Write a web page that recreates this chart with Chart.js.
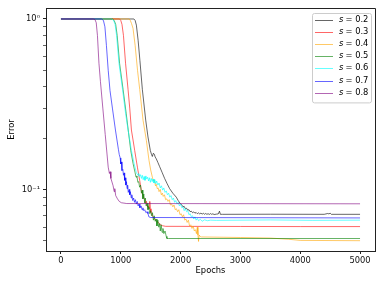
<!DOCTYPE html>
<html>
<head>
<meta charset="utf-8">
<script src="https://cdn.jsdelivr.net/npm/chart.js@4/dist/chart.umd.min.js"></script>
<style>
html,body{margin:0;padding:0;background:#fff;}
canvas{display:block;}
</style>
</head>
<body>
<canvas id="c" width="384" height="286"></canvas>
<script>
// ---- data (epoch, error) ----
const seriesLabels = ['0.2','0.3','0.4','0.5','0.6','0.7','0.8'];
const seriesColors = ['0,0,0','255,0,0','255,165,0','0,128,0','0,255,255','0,0,255','128,0,128'];

const errS02 = [[0,1],[1220,1],[1240,0.98],[1261,0.92],[1290,0.75],[1320,0.57],[1361,0.385],[1417,0.255],[1455,0.203],[1494,0.169],[1515,0.160],[1528,0.156],[1545,0.163],[1560,0.161],[1575,0.155],[1594,0.151],[1620,0.144],[1650,0.136],[1690,0.126],[1733,0.116],[1775,0.108],[1817,0.101],[1870,0.095],[1928,0.090],[1960,0.086],[1990,0.083],[2020,0.081],[2040,0.079],[2060,0.0795],[2080,0.077],[2100,0.0775],[2120,0.0755],[2140,0.076],[2160,0.074],[2180,0.0745],[2200,0.073],[2220,0.0738],[2240,0.0725],[2260,0.0732],[2280,0.072],[2300,0.0728],[2320,0.0718],[2340,0.0726],[2360,0.0716],[2380,0.0724],[2400,0.0715],[2420,0.0722],[2440,0.0714],[2460,0.072],[2480,0.0713],[2500,0.0721],[2520,0.0714],[2540,0.0719],[2560,0.0712],[2600,0.0716],[2630,0.0718],[2650,0.0745],[2665,0.0714],[2700,0.0714],[3500,0.0715],[4400,0.0714],[4460,0.0722],[4480,0.0718],[4500,0.0725],[4520,0.0714],[5000,0.0714]];

const errS03 = [[0,1],[980,1],[1000,0.98],[1020,0.93],[1045,0.8],[1080,0.55],[1122,0.385],[1150,0.3],[1178,0.223],[1205,0.195],[1233,0.169],[1278,0.135],[1317,0.1125],[1345,0.098],[1370,0.092],[1385,0.089],[1400,0.087],[1415,0.083],[1430,0.085],[1445,0.079],[1460,0.080],[1475,0.077],[1485,0.085],[1492,0.077],[1505,0.073],[1520,0.072],[1540,0.069],[1560,0.068],[1580,0.066],[1600,0.065],[1630,0.064],[1660,0.062],[1700,0.0612],[1750,0.0607],[3000,0.0606],[4000,0.0605],[5000,0.0605]];

const errS04 = [[0,1],[1140,1],[1160,0.98],[1180,0.94],[1205,0.88],[1240,0.7],[1280,0.5],[1317,0.385],[1372,0.255],[1428,0.194],[1472,0.148],[1500,0.13],[1528,0.118],[1545,0.112],[1560,0.114],[1580,0.105],[1594,0.107],[1610,0.101],[1625,0.102],[1640,0.097],[1660,0.1],[1678,0.093],[1695,0.095],[1710,0.091],[1730,0.093],[1750,0.087],[1770,0.088],[1790,0.085],[1810,0.087],[1830,0.081],[1850,0.082],[1870,0.079],[1890,0.081],[1910,0.076],[1930,0.077],[1950,0.074],[1970,0.076],[1990,0.071],[2010,0.072],[2030,0.069],[2050,0.071],[2070,0.066],[2090,0.067],[2110,0.064],[2130,0.066],[2150,0.061],[2170,0.062],[2190,0.059],[2210,0.061],[2230,0.057],[2250,0.058],[2265,0.055],[2280,0.060],[2290,0.054],[2300,0.0495],[2310,0.054],[2330,0.0528],[2350,0.0526],[3000,0.0522],[3500,0.0518],[3800,0.051],[4000,0.0502],[5000,0.0500]];

const errS05 = [[0,1],[860,1],[890,0.98],[915,0.93],[940,0.8],[980,0.55],[1039,0.385],[1090,0.28],[1130,0.215],[1167,0.169],[1205,0.142],[1240,0.125],[1255,0.118],[1270,0.120],[1285,0.110],[1300,0.111],[1315,0.103],[1330,0.106],[1345,0.095],[1360,0.099],[1370,0.088],[1385,0.094],[1400,0.083],[1410,0.089],[1425,0.080],[1440,0.083],[1455,0.076],[1470,0.079],[1485,0.072],[1500,0.075],[1515,0.070],[1530,0.073],[1545,0.066],[1560,0.070],[1575,0.065],[1590,0.067],[1605,0.061],[1620,0.066],[1635,0.060],[1650,0.063],[1660,0.057],[1675,0.062],[1690,0.056],[1705,0.059],[1720,0.055],[1740,0.057],[1760,0.053],[1772,0.0515],[1800,0.0515],[5000,0.0515]];

const errS06 = [[0,1],[850,1],[880,0.98],[905,0.93],[930,0.8],[970,0.55],[1030,0.385],[1080,0.28],[1122,0.223],[1178,0.169],[1222,0.142],[1261,0.125],[1289,0.121],[1300,0.124],[1315,0.119],[1330,0.122],[1345,0.116],[1360,0.121],[1375,0.114],[1390,0.119],[1405,0.113],[1420,0.120],[1435,0.115],[1450,0.118],[1465,0.112],[1480,0.117],[1495,0.110],[1510,0.116],[1525,0.111],[1540,0.115],[1555,0.109],[1570,0.114],[1585,0.108],[1600,0.112],[1620,0.106],[1640,0.109],[1660,0.102],[1680,0.105],[1700,0.099],[1720,0.102],[1740,0.096],[1760,0.098],[1780,0.093],[1800,0.095],[1820,0.090],[1840,0.092],[1860,0.087],[1880,0.089],[1900,0.084],[1920,0.086],[1940,0.082],[1960,0.084],[1980,0.080],[2000,0.082],[2020,0.078],[2040,0.079],[2060,0.075],[2080,0.077],[2100,0.074],[2120,0.075],[2140,0.071],[2160,0.072],[2180,0.069],[2200,0.070],[2220,0.067],[2240,0.069],[2260,0.066],[2280,0.0675],[2300,0.0655],[2330,0.0668],[2360,0.065],[2400,0.0663],[2450,0.0655],[2500,0.066],[2600,0.0658],[3500,0.0662],[4200,0.0658],[5000,0.066]];

const errS07 = [[0,1],[680,1],[710,0.98],[735,0.9],[760,0.7],[790,0.5],[820,0.38],[860,0.3],[911,0.223],[960,0.172],[975,0.160],[990,0.153],[1000,0.141],[1010,0.145],[1020,0.129],[1035,0.131],[1045,0.121],[1055,0.125],[1065,0.113],[1075,0.117],[1085,0.106],[1095,0.111],[1105,0.101],[1115,0.106],[1125,0.096],[1140,0.100],[1150,0.093],[1160,0.097],[1175,0.089],[1185,0.093],[1200,0.086],[1215,0.089],[1230,0.084],[1245,0.087],[1260,0.082],[1275,0.085],[1290,0.080],[1305,0.082],[1320,0.078],[1340,0.080],[1355,0.076],[1370,0.078],[1385,0.075],[1400,0.076],[1420,0.073],[1440,0.074],[1455,0.072],[1470,0.069],[1500,0.0684],[5000,0.068]];

const errS08 = [[0,1],[540,1],[570,0.99],[590,0.95],[610,0.8],[635,0.55],[660,0.43],[700,0.3],[740,0.21],[790,0.135],[810,0.124],[822,0.127],[835,0.116],[872,0.105],[890,0.097],[900,0.101],[915,0.092],[945,0.088],[975,0.085],[1011,0.0835],[1100,0.0826],[5000,0.0823]];

const xTickValues = [0,1000,2000,3000,4000,5000];
const yMajorTicks = [0.1,1];
const yMinorTicks = [0.05,0.06,0.07,0.08,0.09,0.2,0.3,0.4,0.5,0.6,0.7,0.8,0.9];
const yTickLabels = {'0.1':'10\u207B\u00B9','1':'10\u2070'};

const allSeries = [errS02,errS03,errS04,errS05,errS06,errS07,errS08];

const FONT = 'DejaVu Sans';
const FS = 8.33;
const ALPHA = 0.6;
const lineColor = i => 'rgba(' + seriesColors[i] + ',' + ALPHA + ')';

const datasets = allSeries.map((s,i)=>({
  label: 's = ' + seriesLabels[i],
  data: s.map(([x,y])=>({x,y})),
  borderColor: lineColor(i),
  backgroundColor: lineColor(i),
  borderWidth: 1,
  pointRadius: 0,
  tension: 0,
  fill: false,
  order: allSeries.length - 1 - i
}));

const framePlugin = {
  id: 'frame',
  afterDatasetsDraw(chart){
    const {ctx, chartArea:a} = chart;
    ctx.save();
    ctx.strokeStyle = '#222';
    ctx.lineWidth = 1;
    ctx.beginPath();
    ctx.moveTo(a.left, a.top+0.5); ctx.lineTo(a.right+0.5, a.top+0.5);
    ctx.lineTo(a.right+0.5, a.bottom);
    ctx.stroke();
    ctx.restore();
  },
  afterDraw(chart){
    const {ctx, chartArea:a} = chart;
    const n = seriesLabels.length;
    const w = 59, rowH = 12.2;
    const h = rowH*n + 4;
    const x0 = a.right - 4 - w, y0 = a.top + 5;
    ctx.save();
    ctx.beginPath();
    ctx.roundRect(x0+0.5, y0+0.5, w, h, 2);
    ctx.fillStyle = 'rgba(255,255,255,0.8)';
    ctx.fill();
    ctx.strokeStyle = '#cccccc';
    ctx.lineWidth = 1;
    ctx.stroke();
    for (let i = 0; i < n; i++) {
      const cy = y0 + 6.5 + i*rowH;
      const ly = Math.round(cy) + 0.5;
      ctx.strokeStyle = lineColor(i);
      ctx.lineWidth = 1;
      ctx.beginPath();
      ctx.moveTo(x0+3, ly);
      ctx.lineTo(x0+21, ly);
      ctx.stroke();
      ctx.fillStyle = '#000';
      ctx.textBaseline = 'middle';
      ctx.textAlign = 'left';
      ctx.font = 'italic ' + FS + 'px "' + FONT + '"';
      const tx = x0 + 27;
      ctx.fillText('s', tx, cy);
      ctx.font = FS + 'px "' + FONT + '"';
      ctx.fillText('= ' + seriesLabels[i], tx + 6.5, cy);
    }
    ctx.restore();
  }
};

Chart.defaults.font.family = FONT;
Chart.defaults.font.size = FS;
Chart.defaults.color = '#000';

new Chart(document.getElementById('c'), {
  type: 'line',
  data: { datasets },
  options: {
    responsive: false,
    animation: false,
    devicePixelRatio: 1,
    layout: { padding: { left: 0, right: 9, top: 8, bottom: 0 } },
    plugins: { legend: { display: false }, tooltip: { enabled: false } },
    scales: {
      x: {
        type: 'linear',
        min: -250, max: 5250,
        afterBuildTicks: s => { s.ticks = xTickValues.map(v=>({value:v})); },
        afterFit: s => { s.height = 35; },
        ticks: { autoSkip: false, maxRotation: 0, padding: 2, color: '#111', font: {size: FS},
                 callback: v => String(v) },
        grid: { drawOnChartArea: false, drawTicks: true, tickLength: 3, tickColor: '#222', tickWidth: 1 },
        border: { display: true, color: '#222', width: 1 },
        title: { display: true, text: 'Epochs', color: '#000', font: {size: FS}, padding: {top: 0, bottom: 10} }
      },
      y: {
        type: 'logarithmic',
        min: 0.0435, max: 1.16,
        afterBuildTicks: s => {
          s.ticks = yMinorTicks.concat(yMajorTicks).sort((a,b)=>a-b).map(v=>({value:v, major: yMajorTicks.includes(v)}));
        },
        afterFit: s => { s.width = 46; },
        ticks: {
          autoSkip: false, padding: 3, color: '#111', font: {size: FS},
          callback: v => yTickLabels[String(+v.toFixed(6))] || ''
        },
        grid: {
          drawOnChartArea: false, drawTicks: true, tickLength: 3,
          tickColor: '#222',
          tickWidth: ctx => (ctx.tick && ctx.tick.major) ? 1 : 0.7
        },
        border: { display: true, color: '#222', width: 1 },
        title: { display: true, text: 'Error', color: '#000', font: {size: FS}, padding: {top: 7, bottom: 0} }
      }
    }
  },
  plugins: [framePlugin]
});
</script>
</body>
</html>
